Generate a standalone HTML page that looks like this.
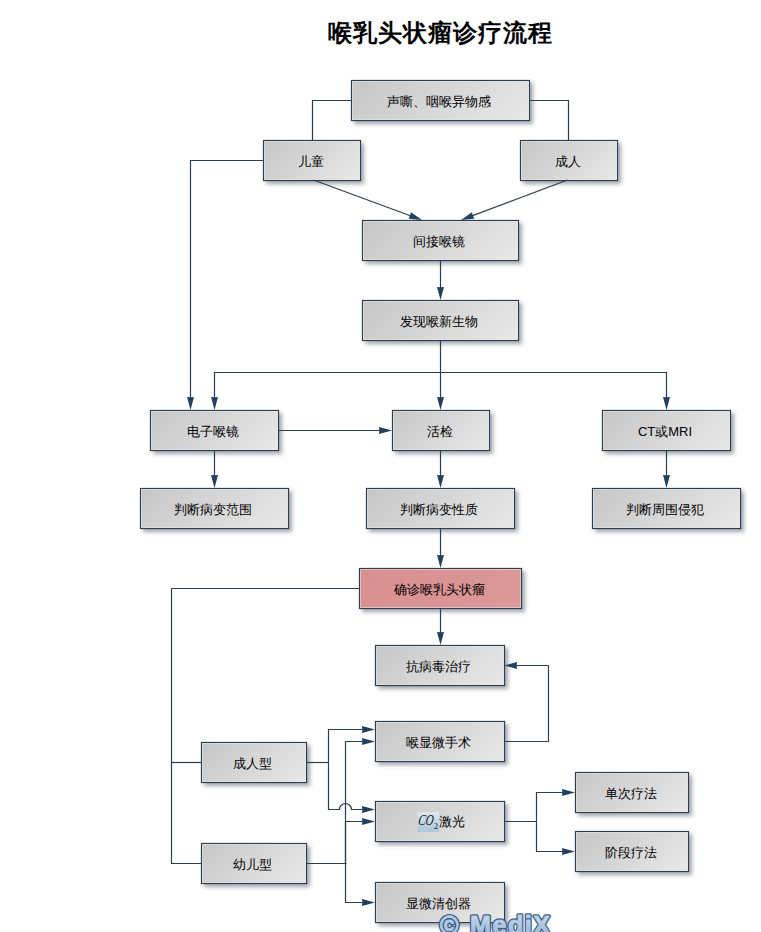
<!DOCTYPE html>
<html><head><meta charset="utf-8"><style>
html,body{margin:0;padding:0;background:#fff;}
body{width:761px;height:932px;position:relative;overflow:hidden;font-family:"Liberation Sans",sans-serif;}
svg{position:absolute;left:0;top:0;}
.title{position:absolute;left:300px;top:17px;width:280px;text-align:center;font-size:24px;font-weight:bold;color:#000;letter-spacing:1px;white-space:nowrap;}
.t{position:absolute;display:flex;align-items:center;justify-content:center;font-size:13px;color:#000;white-space:nowrap;line-height:1;}
.hl{position:absolute;left:417px;top:812px;width:22px;height:20px;background:linear-gradient(#dde7f0,#adc6d8);}
.coi{position:absolute;left:416.5px;top:810px;font-family:"Liberation Serif",serif;font-style:italic;font-size:15px;line-height:20px;transform:scaleX(0.74) skewX(-10deg);transform-origin:0 100%;color:#111;}
.co2{position:absolute;left:434px;top:822px;font-family:"Liberation Serif",serif;font-size:8px;line-height:10px;color:#1a1a1a;}
.jg{position:absolute;left:439px;top:812px;font-size:13px;line-height:20px;color:#000;white-space:nowrap;}
.wm{position:absolute;left:438px;top:906px;font-size:25px;font-weight:bold;color:#a9c3df;-webkit-text-stroke:1px #4f6f96;white-space:nowrap;letter-spacing:1px;}
</style></head><body>
<svg width="761" height="932" viewBox="0 0 761 932">
<defs><linearGradient id="g" x1="0" y1="0" x2="1" y2="1"><stop offset="0" stop-color="#c6c6c6"/><stop offset="1" stop-color="#e9e9e9"/></linearGradient><linearGradient id="gp" x1="0" y1="0" x2="1" y2="1"><stop offset="0" stop-color="#d98f8f"/><stop offset="1" stop-color="#dc9898"/></linearGradient><filter id="sh" x="-20%" y="-20%" width="140%" height="160%"><feGaussianBlur stdDeviation="2"/></filter><linearGradient id="wm" x1="0" y1="0" x2="0" y2="1"><stop offset="0" stop-color="#d4e2f2"/><stop offset="1" stop-color="#8eadd2"/></linearGradient></defs>
<rect x="354" y="83" width="179" height="41" fill="#66717c" opacity="0.62" filter="url(#sh)"/>
<rect x="266" y="143" width="98" height="41" fill="#66717c" opacity="0.62" filter="url(#sh)"/>
<rect x="523" y="143" width="98" height="41" fill="#66717c" opacity="0.62" filter="url(#sh)"/>
<rect x="365" y="223" width="157" height="41" fill="#66717c" opacity="0.62" filter="url(#sh)"/>
<rect x="365" y="303" width="157" height="41" fill="#66717c" opacity="0.62" filter="url(#sh)"/>
<rect x="153" y="413" width="129" height="41" fill="#66717c" opacity="0.62" filter="url(#sh)"/>
<rect x="395" y="413" width="98" height="41" fill="#66717c" opacity="0.62" filter="url(#sh)"/>
<rect x="605" y="413" width="129" height="41" fill="#66717c" opacity="0.62" filter="url(#sh)"/>
<rect x="143" y="491" width="149" height="41" fill="#66717c" opacity="0.62" filter="url(#sh)"/>
<rect x="369" y="491" width="149" height="41" fill="#66717c" opacity="0.62" filter="url(#sh)"/>
<rect x="595" y="491" width="149" height="41" fill="#66717c" opacity="0.62" filter="url(#sh)"/>
<rect x="362" y="571" width="163" height="41" fill="#66717c" opacity="0.62" filter="url(#sh)"/>
<rect x="378" y="648" width="130" height="41" fill="#66717c" opacity="0.62" filter="url(#sh)"/>
<rect x="204" y="745" width="106" height="41" fill="#66717c" opacity="0.62" filter="url(#sh)"/>
<rect x="378" y="724" width="130" height="41" fill="#66717c" opacity="0.62" filter="url(#sh)"/>
<rect x="378" y="804" width="130" height="41" fill="#66717c" opacity="0.62" filter="url(#sh)"/>
<rect x="578" y="775" width="114" height="41" fill="#66717c" opacity="0.62" filter="url(#sh)"/>
<rect x="578" y="834" width="114" height="41" fill="#66717c" opacity="0.62" filter="url(#sh)"/>
<rect x="204" y="846" width="106" height="41" fill="#66717c" opacity="0.62" filter="url(#sh)"/>
<rect x="378" y="885" width="130" height="41" fill="#66717c" opacity="0.62" filter="url(#sh)"/>
<linearGradient id="g0" gradientUnits="userSpaceOnUse" x1="351" y1="80" x2="460.0" y2="189.0"><stop offset="0" stop-color="#c6c6c6"/><stop offset="1" stop-color="#e8e8e8"/></linearGradient>
<rect x="351.5" y="80.5" width="178" height="40" fill="url(#g0)" stroke="#2f3d4c" stroke-width="1.2"/>
<rect x="352.5" y="81.5" width="176" height="38" fill="none" stroke="#eef4fa" stroke-opacity="0.55" stroke-width="1"/>
<linearGradient id="g1" gradientUnits="userSpaceOnUse" x1="263" y1="140" x2="331.5" y2="208.5"><stop offset="0" stop-color="#c6c6c6"/><stop offset="1" stop-color="#e8e8e8"/></linearGradient>
<rect x="263.5" y="140.5" width="97" height="40" fill="url(#g1)" stroke="#2f3d4c" stroke-width="1.2"/>
<rect x="264.5" y="141.5" width="95" height="38" fill="none" stroke="#eef4fa" stroke-opacity="0.55" stroke-width="1"/>
<linearGradient id="g2" gradientUnits="userSpaceOnUse" x1="520" y1="140" x2="588.5" y2="208.5"><stop offset="0" stop-color="#c6c6c6"/><stop offset="1" stop-color="#e8e8e8"/></linearGradient>
<rect x="520.5" y="140.5" width="97" height="40" fill="url(#g2)" stroke="#2f3d4c" stroke-width="1.2"/>
<rect x="521.5" y="141.5" width="95" height="38" fill="none" stroke="#eef4fa" stroke-opacity="0.55" stroke-width="1"/>
<linearGradient id="g3" gradientUnits="userSpaceOnUse" x1="362" y1="220" x2="460.0" y2="318.0"><stop offset="0" stop-color="#c6c6c6"/><stop offset="1" stop-color="#e8e8e8"/></linearGradient>
<rect x="362.5" y="220.5" width="156" height="40" fill="url(#g3)" stroke="#2f3d4c" stroke-width="1.2"/>
<rect x="363.5" y="221.5" width="154" height="38" fill="none" stroke="#eef4fa" stroke-opacity="0.55" stroke-width="1"/>
<linearGradient id="g4" gradientUnits="userSpaceOnUse" x1="362" y1="300" x2="460.0" y2="398.0"><stop offset="0" stop-color="#c6c6c6"/><stop offset="1" stop-color="#e8e8e8"/></linearGradient>
<rect x="362.5" y="300.5" width="156" height="40" fill="url(#g4)" stroke="#2f3d4c" stroke-width="1.2"/>
<rect x="363.5" y="301.5" width="154" height="38" fill="none" stroke="#eef4fa" stroke-opacity="0.55" stroke-width="1"/>
<linearGradient id="g5" gradientUnits="userSpaceOnUse" x1="150" y1="410" x2="234.0" y2="494.0"><stop offset="0" stop-color="#c6c6c6"/><stop offset="1" stop-color="#e8e8e8"/></linearGradient>
<rect x="150.5" y="410.5" width="128" height="40" fill="url(#g5)" stroke="#2f3d4c" stroke-width="1.2"/>
<rect x="151.5" y="411.5" width="126" height="38" fill="none" stroke="#eef4fa" stroke-opacity="0.55" stroke-width="1"/>
<linearGradient id="g6" gradientUnits="userSpaceOnUse" x1="392" y1="410" x2="460.5" y2="478.5"><stop offset="0" stop-color="#c6c6c6"/><stop offset="1" stop-color="#e8e8e8"/></linearGradient>
<rect x="392.5" y="410.5" width="97" height="40" fill="url(#g6)" stroke="#2f3d4c" stroke-width="1.2"/>
<rect x="393.5" y="411.5" width="95" height="38" fill="none" stroke="#eef4fa" stroke-opacity="0.55" stroke-width="1"/>
<linearGradient id="g7" gradientUnits="userSpaceOnUse" x1="602" y1="410" x2="686.0" y2="494.0"><stop offset="0" stop-color="#c6c6c6"/><stop offset="1" stop-color="#e8e8e8"/></linearGradient>
<rect x="602.5" y="410.5" width="128" height="40" fill="url(#g7)" stroke="#2f3d4c" stroke-width="1.2"/>
<rect x="603.5" y="411.5" width="126" height="38" fill="none" stroke="#eef4fa" stroke-opacity="0.55" stroke-width="1"/>
<linearGradient id="g8" gradientUnits="userSpaceOnUse" x1="140" y1="488" x2="234.0" y2="582.0"><stop offset="0" stop-color="#c6c6c6"/><stop offset="1" stop-color="#e8e8e8"/></linearGradient>
<rect x="140.5" y="488.5" width="148" height="40" fill="url(#g8)" stroke="#2f3d4c" stroke-width="1.2"/>
<rect x="141.5" y="489.5" width="146" height="38" fill="none" stroke="#eef4fa" stroke-opacity="0.55" stroke-width="1"/>
<linearGradient id="g9" gradientUnits="userSpaceOnUse" x1="366" y1="488" x2="460.0" y2="582.0"><stop offset="0" stop-color="#c6c6c6"/><stop offset="1" stop-color="#e8e8e8"/></linearGradient>
<rect x="366.5" y="488.5" width="148" height="40" fill="url(#g9)" stroke="#2f3d4c" stroke-width="1.2"/>
<rect x="367.5" y="489.5" width="146" height="38" fill="none" stroke="#eef4fa" stroke-opacity="0.55" stroke-width="1"/>
<linearGradient id="g10" gradientUnits="userSpaceOnUse" x1="592" y1="488" x2="686.0" y2="582.0"><stop offset="0" stop-color="#c6c6c6"/><stop offset="1" stop-color="#e8e8e8"/></linearGradient>
<rect x="592.5" y="488.5" width="148" height="40" fill="url(#g10)" stroke="#2f3d4c" stroke-width="1.2"/>
<rect x="593.5" y="489.5" width="146" height="38" fill="none" stroke="#eef4fa" stroke-opacity="0.55" stroke-width="1"/>
<linearGradient id="g11" gradientUnits="userSpaceOnUse" x1="359" y1="568" x2="460.0" y2="669.0"><stop offset="0" stop-color="#d98f8f"/><stop offset="1" stop-color="#dc9898"/></linearGradient>
<rect x="359.5" y="568.5" width="162" height="40" fill="url(#g11)" stroke="#2f3d4c" stroke-width="1.2"/>
<rect x="360.5" y="569.5" width="160" height="38" fill="none" stroke="#eef4fa" stroke-opacity="0.55" stroke-width="1"/>
<linearGradient id="g12" gradientUnits="userSpaceOnUse" x1="375" y1="645" x2="459.5" y2="729.5"><stop offset="0" stop-color="#c6c6c6"/><stop offset="1" stop-color="#e8e8e8"/></linearGradient>
<rect x="375.5" y="645.5" width="129" height="40" fill="url(#g12)" stroke="#2f3d4c" stroke-width="1.2"/>
<rect x="376.5" y="646.5" width="127" height="38" fill="none" stroke="#eef4fa" stroke-opacity="0.55" stroke-width="1"/>
<linearGradient id="g13" gradientUnits="userSpaceOnUse" x1="201" y1="742" x2="273.5" y2="814.5"><stop offset="0" stop-color="#c6c6c6"/><stop offset="1" stop-color="#e8e8e8"/></linearGradient>
<rect x="201.5" y="742.5" width="105" height="40" fill="url(#g13)" stroke="#2f3d4c" stroke-width="1.2"/>
<rect x="202.5" y="743.5" width="103" height="38" fill="none" stroke="#eef4fa" stroke-opacity="0.55" stroke-width="1"/>
<linearGradient id="g14" gradientUnits="userSpaceOnUse" x1="375" y1="721" x2="459.5" y2="805.5"><stop offset="0" stop-color="#c6c6c6"/><stop offset="1" stop-color="#e8e8e8"/></linearGradient>
<rect x="375.5" y="721.5" width="129" height="40" fill="url(#g14)" stroke="#2f3d4c" stroke-width="1.2"/>
<rect x="376.5" y="722.5" width="127" height="38" fill="none" stroke="#eef4fa" stroke-opacity="0.55" stroke-width="1"/>
<linearGradient id="g15" gradientUnits="userSpaceOnUse" x1="375" y1="801" x2="459.5" y2="885.5"><stop offset="0" stop-color="#c6c6c6"/><stop offset="1" stop-color="#e8e8e8"/></linearGradient>
<rect x="375.5" y="801.5" width="129" height="40" fill="url(#g15)" stroke="#2f3d4c" stroke-width="1.2"/>
<rect x="376.5" y="802.5" width="127" height="38" fill="none" stroke="#eef4fa" stroke-opacity="0.55" stroke-width="1"/>
<linearGradient id="g16" gradientUnits="userSpaceOnUse" x1="575" y1="772" x2="651.5" y2="848.5"><stop offset="0" stop-color="#c6c6c6"/><stop offset="1" stop-color="#e8e8e8"/></linearGradient>
<rect x="575.5" y="772.5" width="113" height="40" fill="url(#g16)" stroke="#2f3d4c" stroke-width="1.2"/>
<rect x="576.5" y="773.5" width="111" height="38" fill="none" stroke="#eef4fa" stroke-opacity="0.55" stroke-width="1"/>
<linearGradient id="g17" gradientUnits="userSpaceOnUse" x1="575" y1="831" x2="651.5" y2="907.5"><stop offset="0" stop-color="#c6c6c6"/><stop offset="1" stop-color="#e8e8e8"/></linearGradient>
<rect x="575.5" y="831.5" width="113" height="40" fill="url(#g17)" stroke="#2f3d4c" stroke-width="1.2"/>
<rect x="576.5" y="832.5" width="111" height="38" fill="none" stroke="#eef4fa" stroke-opacity="0.55" stroke-width="1"/>
<linearGradient id="g18" gradientUnits="userSpaceOnUse" x1="201" y1="843" x2="273.5" y2="915.5"><stop offset="0" stop-color="#c6c6c6"/><stop offset="1" stop-color="#e8e8e8"/></linearGradient>
<rect x="201.5" y="843.5" width="105" height="40" fill="url(#g18)" stroke="#2f3d4c" stroke-width="1.2"/>
<rect x="202.5" y="844.5" width="103" height="38" fill="none" stroke="#eef4fa" stroke-opacity="0.55" stroke-width="1"/>
<linearGradient id="g19" gradientUnits="userSpaceOnUse" x1="375" y1="882" x2="459.5" y2="966.5"><stop offset="0" stop-color="#c6c6c6"/><stop offset="1" stop-color="#e8e8e8"/></linearGradient>
<rect x="375.5" y="882.5" width="129" height="40" fill="url(#g19)" stroke="#2f3d4c" stroke-width="1.2"/>
<rect x="376.5" y="883.5" width="127" height="38" fill="none" stroke="#eef4fa" stroke-opacity="0.55" stroke-width="1"/>
<polyline points="351,100.5 312.5,100.5 312.5,140" fill="none" stroke="#2f3d4b" stroke-width="1.2"/>
<polyline points="529,100.5 568.5,100.5 568.5,140" fill="none" stroke="#2f3d4b" stroke-width="1.2"/>
<polyline points="171.5,588.5 359,588.5" fill="none" stroke="#2f3d4b" stroke-width="1.2"/>
<polyline points="171.5,588.5 171.5,863.5 201,863.5" fill="none" stroke="#2f3d4b" stroke-width="1.2"/>
<polyline points="171.5,762.5 201,762.5" fill="none" stroke="#2f3d4b" stroke-width="1.2"/>
<polyline points="306,762.5 328.5,762.5" fill="none" stroke="#2f3d4b" stroke-width="1.2"/>
<polyline points="306,863.5 346.5,863.5" fill="none" stroke="#2f3d4b" stroke-width="1.2"/>
<polyline points="504,741.5 548.5,741.5 548.5,665.5" fill="none" stroke="#2f3d4b" stroke-width="1.2"/>
<polyline points="504,821.5 536.5,821.5" fill="none" stroke="#2f3d4b" stroke-width="1.2"/>
<path d="M263,160.5 L190.5,160.5 L190.5,399.0" fill="none" stroke="#2f3d4b" stroke-width="1.2"/>
<polygon points="190.5,410 187.0,397.0 190.5,397.3 194.0,397.0" fill="#24405f"/>
<path d="M313.5,180 L411.67903798511804,216.1950370452048" fill="none" stroke="#2f3d4b" stroke-width="1.2"/>
<polygon points="422,220 408.59182940588653,218.787168058159 410.08398021918174,215.60699731582736 411.0131694680289,212.2192831395978" fill="#24405f"/>
<path d="M567.5,180 L471.29763278122994,216.13234449531268" fill="none" stroke="#2f3d4b" stroke-width="1.2"/>
<polygon points="461,220 471.93931198996216,212.15261488225093 472.8890851201473,215.53461591731556 474.4005473111268,218.7056539248518" fill="#24405f"/>
<path d="M440.5,260 L440.5,289.0" fill="none" stroke="#2f3d4b" stroke-width="1.2"/>
<polygon points="440.5,300 437.0,287.0 440.5,287.3 444.0,287.0" fill="#24405f"/>
<path d="M440.5,340 L440.5,399.0" fill="none" stroke="#2f3d4b" stroke-width="1.2"/>
<polygon points="440.5,410 437.0,397.0 440.5,397.3 444.0,397.0" fill="#24405f"/>
<path d="M440.5,372.5 L214.5,372.5 L214.5,399.0" fill="none" stroke="#2f3d4b" stroke-width="1.2"/>
<polygon points="214.5,410 211.0,397.0 214.5,397.3 218.0,397.0" fill="#24405f"/>
<path d="M440.5,372.5 L666.5,372.5 L666.5,399.0" fill="none" stroke="#2f3d4b" stroke-width="1.2"/>
<polygon points="666.5,410 663.0,397.0 666.5,397.3 670.0,397.0" fill="#24405f"/>
<path d="M278,430.5 L381.0,430.5" fill="none" stroke="#2f3d4b" stroke-width="1.2"/>
<polygon points="392,430.5 379.0,434.0 379.3,430.5 379.0,427.0" fill="#24405f"/>
<path d="M214.5,450 L214.5,477.0" fill="none" stroke="#2f3d4b" stroke-width="1.2"/>
<polygon points="214.5,488 211.0,475.0 214.5,475.3 218.0,475.0" fill="#24405f"/>
<path d="M440.5,450 L440.5,477.0" fill="none" stroke="#2f3d4b" stroke-width="1.2"/>
<polygon points="440.5,488 437.0,475.0 440.5,475.3 444.0,475.0" fill="#24405f"/>
<path d="M666.5,450 L666.5,477.0" fill="none" stroke="#2f3d4b" stroke-width="1.2"/>
<polygon points="666.5,488 663.0,475.0 666.5,475.3 670.0,475.0" fill="#24405f"/>
<path d="M440.5,528 L440.5,557.0" fill="none" stroke="#2f3d4b" stroke-width="1.2"/>
<polygon points="440.5,568 437.0,555.0 440.5,555.3 444.0,555.0" fill="#24405f"/>
<path d="M440.5,608 L440.5,634.0" fill="none" stroke="#2f3d4b" stroke-width="1.2"/>
<polygon points="440.5,645 437.0,632.0 440.5,632.3 444.0,632.0" fill="#24405f"/>
<path d="M548.5,665.5 L515.0,665.5" fill="none" stroke="#2f3d4b" stroke-width="1.2"/>
<polygon points="504,665.5 517.0,662.0 516.7,665.5 517.0,669.0" fill="#24405f"/>
<path d="M328.5,762.5 L328.5,729.5 L364.0,729.5" fill="none" stroke="#2f3d4b" stroke-width="1.2"/>
<polygon points="375,729.5 362.0,733.0 362.3,729.5 362.0,726.0" fill="#24405f"/>
<path d="M328.5,762.5 L328.5,809.5 L339.5,809.5 A6,6 0 0 1 351.5,809.5 L364.0,809.5" fill="none" stroke="#2f3d4b" stroke-width="1.2"/>
<polygon points="375,809.5 362.0,813.0 362.3,809.5 362.0,806.0" fill="#24405f"/>
<path d="M345.5,863.5 L345.5,741.5 L364.0,741.5" fill="none" stroke="#2f3d4b" stroke-width="1.2"/>
<polygon points="375,741.5 362.0,745.0 362.3,741.5 362.0,738.0" fill="#24405f"/>
<path d="M345.5,863.5 L345.5,821.5 L364.0,821.5" fill="none" stroke="#2f3d4b" stroke-width="1.2"/>
<polygon points="375,821.5 362.0,825.0 362.3,821.5 362.0,818.0" fill="#24405f"/>
<path d="M345.5,863.5 L345.5,902.5 L364.0,902.5" fill="none" stroke="#2f3d4b" stroke-width="1.2"/>
<polygon points="375,902.5 362.0,906.0 362.3,902.5 362.0,899.0" fill="#24405f"/>
<path d="M536.5,821.5 L536.5,792.5 L564.0,792.5" fill="none" stroke="#2f3d4b" stroke-width="1.2"/>
<polygon points="575,792.5 562.0,796.0 562.3,792.5 562.0,789.0" fill="#24405f"/>
<path d="M536.5,821.5 L536.5,851.5 L564.0,851.5" fill="none" stroke="#2f3d4b" stroke-width="1.2"/>
<polygon points="575,851.5 562.0,855.0 562.3,851.5 562.0,848.0" fill="#24405f"/>
<text x="440" y="934" font-family="Liberation Sans" font-weight="bold" font-size="25" fill="#3e5e88" stroke="#3e5e88" stroke-width="3.6" stroke-linejoin="round">©</text>
<text x="470" y="934" font-family="Liberation Sans" font-weight="bold" font-size="25" fill="#3e5e88" stroke="#3e5e88" stroke-width="3.6" stroke-linejoin="round" textLength="80" lengthAdjust="spacing">MediX</text>
<text x="440" y="934" font-family="Liberation Sans" font-weight="bold" font-size="25" fill="url(#wm)" stroke="#b3cae4" stroke-width="1.0" stroke-linejoin="round">©</text>
<text x="470" y="934" font-family="Liberation Sans" font-weight="bold" font-size="25" fill="url(#wm)" stroke="#b3cae4" stroke-width="1.0" stroke-linejoin="round" textLength="80" lengthAdjust="spacing">MediX</text>
</svg>
<div class="title">喉乳头状瘤诊疗流程</div>
<div class="t" style="left:350px;top:81px;width:178px;height:40px">声嘶、咽喉异物感</div>
<div class="t" style="left:262px;top:141px;width:97px;height:40px">儿童</div>
<div class="t" style="left:519px;top:141px;width:97px;height:40px">成人</div>
<div class="t" style="left:361px;top:221px;width:156px;height:40px">间接喉镜</div>
<div class="t" style="left:361px;top:301px;width:156px;height:40px">发现喉新生物</div>
<div class="t" style="left:149px;top:411px;width:128px;height:40px">电子喉镜</div>
<div class="t" style="left:391px;top:411px;width:97px;height:40px">活检</div>
<div class="t" style="left:601px;top:411px;width:128px;height:40px">CT或MRI</div>
<div class="t" style="left:139px;top:489px;width:148px;height:40px">判断病变范围</div>
<div class="t" style="left:365px;top:489px;width:148px;height:40px">判断病变性质</div>
<div class="t" style="left:591px;top:489px;width:148px;height:40px">判断周围侵犯</div>
<div class="t" style="left:358px;top:569px;width:162px;height:40px">确诊喉乳头状瘤</div>
<div class="t" style="left:374px;top:646px;width:129px;height:40px">抗病毒治疗</div>
<div class="t" style="left:200px;top:743px;width:105px;height:40px">成人型</div>
<div class="t" style="left:374px;top:722px;width:129px;height:40px">喉显微手术</div>
<div class="hl"></div><div class="coi">CO</div><div class="co2">2</div><div class="jg">激光</div>
<div class="t" style="left:574px;top:773px;width:113px;height:40px">单次疗法</div>
<div class="t" style="left:574px;top:832px;width:113px;height:40px">阶段疗法</div>
<div class="t" style="left:200px;top:844px;width:105px;height:40px">幼儿型</div>
<div class="t" style="left:374px;top:883px;width:129px;height:40px">显微清创器</div>

</body></html>
